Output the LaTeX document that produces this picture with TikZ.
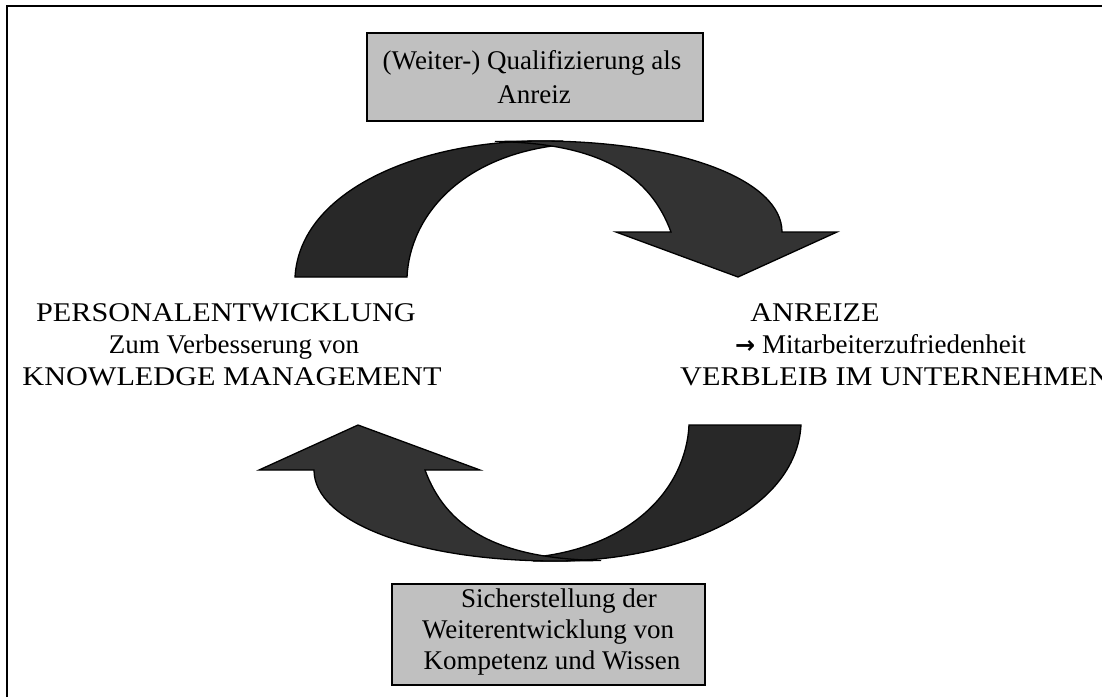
\documentclass[tikz,border=0pt]{standalone}
\usepackage{fontspec}
\setmainfont{Liberation Serif}
\newfontfamily\capsfont{Liberation Serif}[FakeStretch=1.12]
\newfontfamily\arrowfont{DejaVu Sans}
\definecolor{boxgray}{HTML}{C0C0C0}
\definecolor{bandback}{HTML}{282828}
\definecolor{bandfront}{HTML}{333333}
\begin{document}
\begin{tikzpicture}[x=1pt,y=-1pt,
  txt/.style={inner sep=0pt,anchor=base,font=\fontsize{27}{32}\selectfont},
  captxt/.style={txt,font=\capsfont\fontsize{27}{32}\selectfont},
  txtleft/.style={txt,anchor=base west},
  infobox/.style={draw=black,line width=2pt,fill=boxgray,inner sep=0pt},
  band/.style={draw=black,line width=1.3pt,line join=miter}]
\useasboundingbox (0,0) rectangle (1102,697);
\fill[white] (0,0) rectangle (1102,697);

% outer frame (top and left edges)
\draw[line width=2pt] (7,697) -- (7,6) -- (1102,6);

% the two curved arrows: the lower one is the upper one turned by 180 degrees
\foreach \ang in {0,180}{
  \begin{scope}[rotate around={\ang:(548,351)}]
    % back band, rising from the foot
    \filldraw[band,fill=bandback]
      (295,277) .. controls (300,190) and (420,141) .. (540,141)
      -- (562,141) -- (560,145)
      .. controls (462,156) and (410,215) .. (407,277) -- cycle;
    % front band with arrowhead
    \filldraw[band,fill=bandfront]
      (495,141.5) -- (540,141) .. controls (680,141) and (782,180) .. (782,232)
      -- (837,232) -- (738,277) -- (616,232) -- (671,232)
      .. controls (650,175) and (600,143) .. (495,141.5) -- cycle;
  \end{scope}
}

% grey boxes
\node[infobox,minimum width=336pt,minimum height=88pt] (topbox) at (535,77) {};
\node[infobox,minimum width=313pt,minimum height=101pt] (botbox) at (548.5,634.5) {};

% text of the upper box
\node[txt] (top1) at (532,69) {(Weiter-) Qualifizierung als};
\node[txt] (top2) at (534,103) {Anreiz};

% text of the lower box
\node[txt] (bot1) at (559,607) {Sicherstellung der};
\node[txt] (bot2) at (548,638) {Weiterentwicklung von};
\node[txt] (bot3) at (552,669) {Kompetenz und Wissen};

% left block
\node[captxt] (pe1) at (226,321) {PERSONALENTWICKLUNG};
\node[txt] (pe2) at (234,353) {Zum Verbesserung von};
\node[captxt] (pe3) at (232,385) {KNOWLEDGE MANAGEMENT};

% right block
\node[captxt] (an1) at (815,321) {ANREIZE};
\node[txtleft] (an2) at (735,353) {{\arrowfont\bfseries\fontsize{24}{32}\selectfont →}~Mitarbeiterzufriedenheit};
\node[captxt,anchor=base west] (an3) at (680,385) {VERBLEIB IM UNTERNEHMEN};
\end{tikzpicture}
\end{document}
